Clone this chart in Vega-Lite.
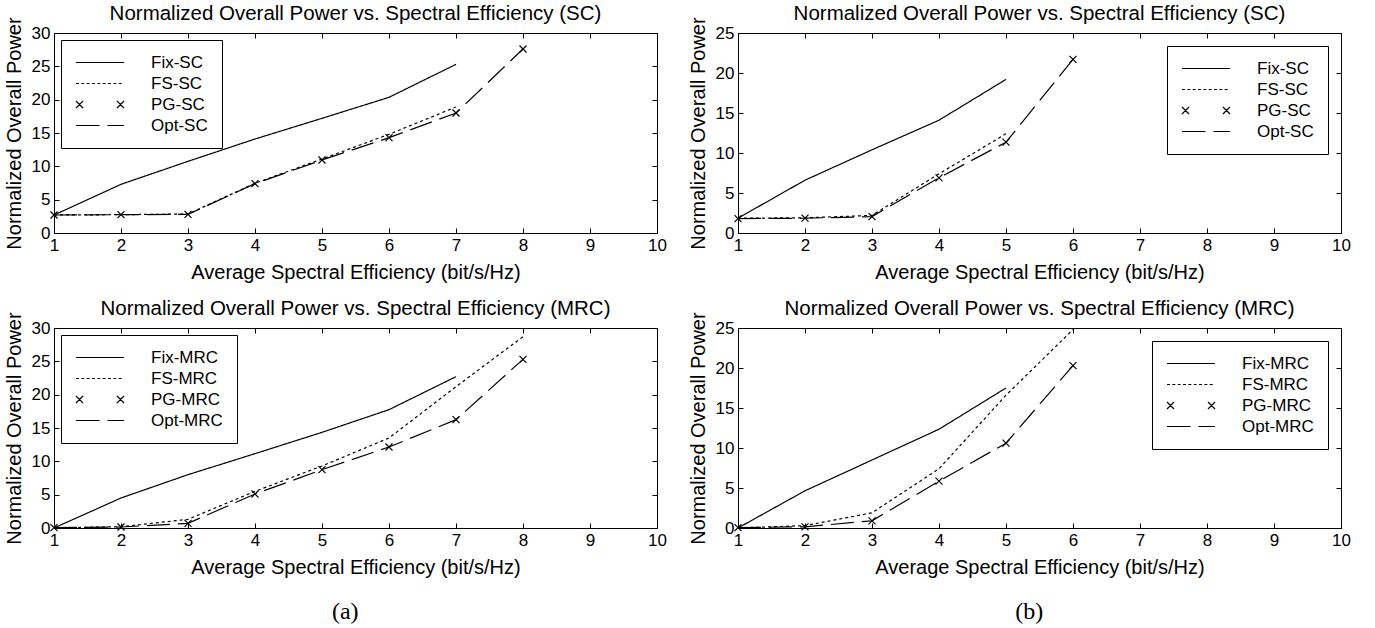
{
  "$schema": "https://vega.github.io/schema/vega-lite/v6.json",
  "padding": {"left": 3, "top": 3, "right": 0, "bottom": 0},
  "background": "white",
  "config": {
    "font": "Liberation Sans",
    "view": {"stroke": "black", "strokeWidth": 1},
    "axis": {"grid": false, "domainColor": "black", "domainWidth": 1, "tickColor": "black", "tickSize": -5, "labelPadding": 9, "labelColor": "black", "labelFontSize": 17, "labelFont": "Liberation Sans", "labelFlush": false, "labelOverlap": false, "titleFontSize": 20, "titleFontWeight": "normal", "titleColor": "black", "titleFont": "Liberation Sans", "minExtent": 0},
    "axisX": {"titlePadding": 9},
    "axisY": {"titlePadding": 7},
    "title": {"fontSize": 20.5, "fontWeight": "normal", "color": "black", "font": "Liberation Sans", "offset": -8},
    "legend": {"title": null, "symbolSize": 2304, "symbolStrokeWidth": 1.2, "symbolStrokeColor": "black", "symbolFillColor": "transparent", "labelFontSize": 17, "labelFont": "Liberation Sans", "labelColor": "black", "labelOffset": 26, "padding": 14, "strokeColor": "black", "fillColor": "white", "rowPadding": 3, "clipHeight": 17}
  },
  "data": {"values": [
    {"panel": "a1", "series": "Fix-SC", "x": 1, "y": 2.7},
    {"panel": "a1", "series": "Fix-SC", "x": 2, "y": 7.3},
    {"panel": "a1", "series": "Fix-SC", "x": 3, "y": 10.75},
    {"panel": "a1", "series": "Fix-SC", "x": 4, "y": 14.1},
    {"panel": "a1", "series": "Fix-SC", "x": 5, "y": 17.2},
    {"panel": "a1", "series": "Fix-SC", "x": 6, "y": 20.35},
    {"panel": "a1", "series": "Fix-SC", "x": 7, "y": 25.3},
    {"panel": "a1", "series": "FS-SC", "x": 1, "y": 2.7},
    {"panel": "a1", "series": "FS-SC", "x": 2, "y": 2.75},
    {"panel": "a1", "series": "FS-SC", "x": 3, "y": 2.85},
    {"panel": "a1", "series": "FS-SC", "x": 4, "y": 7.45},
    {"panel": "a1", "series": "FS-SC", "x": 5, "y": 11.1},
    {"panel": "a1", "series": "FS-SC", "x": 6, "y": 14.8},
    {"panel": "a1", "series": "FS-SC", "x": 7, "y": 18.9},
    {"panel": "a1", "series": "PG-SC", "x": 1, "y": 2.7},
    {"panel": "a1", "series": "PG-SC", "x": 2, "y": 2.75},
    {"panel": "a1", "series": "PG-SC", "x": 3, "y": 2.8},
    {"panel": "a1", "series": "PG-SC", "x": 4, "y": 7.4},
    {"panel": "a1", "series": "PG-SC", "x": 5, "y": 10.95},
    {"panel": "a1", "series": "PG-SC", "x": 6, "y": 14.3},
    {"panel": "a1", "series": "PG-SC", "x": 7, "y": 18.0},
    {"panel": "a1", "series": "PG-SC", "x": 8, "y": 27.6},
    {"panel": "a1", "series": "Opt-SC", "x": 1, "y": 2.7},
    {"panel": "a1", "series": "Opt-SC", "x": 2, "y": 2.75},
    {"panel": "a1", "series": "Opt-SC", "x": 3, "y": 2.8},
    {"panel": "a1", "series": "Opt-SC", "x": 4, "y": 7.4},
    {"panel": "a1", "series": "Opt-SC", "x": 5, "y": 10.95},
    {"panel": "a1", "series": "Opt-SC", "x": 6, "y": 14.3},
    {"panel": "a1", "series": "Opt-SC", "x": 7, "y": 18.0},
    {"panel": "a1", "series": "Opt-SC", "x": 8, "y": 27.6},
    {"panel": "b1", "series": "Fix-SC", "x": 1, "y": 1.85},
    {"panel": "b1", "series": "Fix-SC", "x": 2, "y": 6.6},
    {"panel": "b1", "series": "Fix-SC", "x": 3, "y": 10.4},
    {"panel": "b1", "series": "Fix-SC", "x": 4, "y": 14.1},
    {"panel": "b1", "series": "Fix-SC", "x": 5, "y": 19.2},
    {"panel": "b1", "series": "FS-SC", "x": 1, "y": 1.85},
    {"panel": "b1", "series": "FS-SC", "x": 2, "y": 1.9},
    {"panel": "b1", "series": "FS-SC", "x": 3, "y": 2.2},
    {"panel": "b1", "series": "FS-SC", "x": 4, "y": 7.4},
    {"panel": "b1", "series": "FS-SC", "x": 5, "y": 12.4},
    {"panel": "b1", "series": "PG-SC", "x": 1, "y": 1.8},
    {"panel": "b1", "series": "PG-SC", "x": 2, "y": 1.85},
    {"panel": "b1", "series": "PG-SC", "x": 3, "y": 2.05},
    {"panel": "b1", "series": "PG-SC", "x": 4, "y": 6.9},
    {"panel": "b1", "series": "PG-SC", "x": 5, "y": 11.35},
    {"panel": "b1", "series": "PG-SC", "x": 6, "y": 21.7},
    {"panel": "b1", "series": "Opt-SC", "x": 1, "y": 1.8},
    {"panel": "b1", "series": "Opt-SC", "x": 2, "y": 1.85},
    {"panel": "b1", "series": "Opt-SC", "x": 3, "y": 2.05},
    {"panel": "b1", "series": "Opt-SC", "x": 4, "y": 6.9},
    {"panel": "b1", "series": "Opt-SC", "x": 5, "y": 11.35},
    {"panel": "b1", "series": "Opt-SC", "x": 6, "y": 21.7},
    {"panel": "a2", "series": "Fix-MRC", "x": 1, "y": 0},
    {"panel": "a2", "series": "Fix-MRC", "x": 2, "y": 4.5},
    {"panel": "a2", "series": "Fix-MRC", "x": 3, "y": 8.0},
    {"panel": "a2", "series": "Fix-MRC", "x": 4, "y": 11.15},
    {"panel": "a2", "series": "Fix-MRC", "x": 5, "y": 14.35},
    {"panel": "a2", "series": "Fix-MRC", "x": 6, "y": 17.75},
    {"panel": "a2", "series": "Fix-MRC", "x": 7, "y": 22.7},
    {"panel": "a2", "series": "FS-MRC", "x": 1, "y": 0},
    {"panel": "a2", "series": "FS-MRC", "x": 2, "y": 0.2},
    {"panel": "a2", "series": "FS-MRC", "x": 3, "y": 1.3},
    {"panel": "a2", "series": "FS-MRC", "x": 4, "y": 5.5},
    {"panel": "a2", "series": "FS-MRC", "x": 5, "y": 9.3},
    {"panel": "a2", "series": "FS-MRC", "x": 6, "y": 13.5},
    {"panel": "a2", "series": "FS-MRC", "x": 7, "y": 21.2},
    {"panel": "a2", "series": "FS-MRC", "x": 8, "y": 28.7},
    {"panel": "a2", "series": "PG-MRC", "x": 1, "y": 0.05},
    {"panel": "a2", "series": "PG-MRC", "x": 2, "y": 0.15},
    {"panel": "a2", "series": "PG-MRC", "x": 3, "y": 0.7},
    {"panel": "a2", "series": "PG-MRC", "x": 4, "y": 5.1},
    {"panel": "a2", "series": "PG-MRC", "x": 5, "y": 8.75},
    {"panel": "a2", "series": "PG-MRC", "x": 6, "y": 12.15},
    {"panel": "a2", "series": "PG-MRC", "x": 7, "y": 16.25},
    {"panel": "a2", "series": "PG-MRC", "x": 8, "y": 25.3},
    {"panel": "a2", "series": "Opt-MRC", "x": 1, "y": 0.05},
    {"panel": "a2", "series": "Opt-MRC", "x": 2, "y": 0.15},
    {"panel": "a2", "series": "Opt-MRC", "x": 3, "y": 0.7},
    {"panel": "a2", "series": "Opt-MRC", "x": 4, "y": 5.1},
    {"panel": "a2", "series": "Opt-MRC", "x": 5, "y": 8.75},
    {"panel": "a2", "series": "Opt-MRC", "x": 6, "y": 12.15},
    {"panel": "a2", "series": "Opt-MRC", "x": 7, "y": 16.25},
    {"panel": "a2", "series": "Opt-MRC", "x": 8, "y": 25.3},
    {"panel": "b2", "series": "Fix-MRC", "x": 1, "y": 0},
    {"panel": "b2", "series": "Fix-MRC", "x": 2, "y": 4.65},
    {"panel": "b2", "series": "Fix-MRC", "x": 3, "y": 8.5},
    {"panel": "b2", "series": "Fix-MRC", "x": 4, "y": 12.35},
    {"panel": "b2", "series": "Fix-MRC", "x": 5, "y": 17.5},
    {"panel": "b2", "series": "FS-MRC", "x": 1, "y": 0},
    {"panel": "b2", "series": "FS-MRC", "x": 2, "y": 0.3},
    {"panel": "b2", "series": "FS-MRC", "x": 3, "y": 1.9},
    {"panel": "b2", "series": "FS-MRC", "x": 4, "y": 7.4},
    {"panel": "b2", "series": "FS-MRC", "x": 5, "y": 16.6},
    {"panel": "b2", "series": "FS-MRC", "x": 6, "y": 24.8},
    {"panel": "b2", "series": "PG-MRC", "x": 1, "y": 0.05},
    {"panel": "b2", "series": "PG-MRC", "x": 2, "y": 0.15},
    {"panel": "b2", "series": "PG-MRC", "x": 3, "y": 0.9},
    {"panel": "b2", "series": "PG-MRC", "x": 4, "y": 5.85},
    {"panel": "b2", "series": "PG-MRC", "x": 5, "y": 10.6},
    {"panel": "b2", "series": "PG-MRC", "x": 6, "y": 20.3},
    {"panel": "b2", "series": "Opt-MRC", "x": 1, "y": 0.05},
    {"panel": "b2", "series": "Opt-MRC", "x": 2, "y": 0.15},
    {"panel": "b2", "series": "Opt-MRC", "x": 3, "y": 0.9},
    {"panel": "b2", "series": "Opt-MRC", "x": 4, "y": 5.85},
    {"panel": "b2", "series": "Opt-MRC", "x": 5, "y": 10.6},
    {"panel": "b2", "series": "Opt-MRC", "x": 6, "y": 20.3}
  ]},
  "hconcat": [
    {
      "title": {"text": "(a)", "orient": "bottom", "font": "Liberation Serif", "fontSize": 24, "offset": 22, "frame": "bounds", "anchor": "middle", "dx": 10},
      "bounds": "flush",
      "spacing": 95,
      "resolve": {"scale": {"shape": "independent", "strokeDash": "independent"}, "legend": {"shape": "independent"}},
      "vconcat": [
        {
          "width": 603, "height": 200,
          "title": "Normalized Overall Power vs. Spectral Efficiency (SC)",
          "transform": [{"filter": "datum.panel === 'a1'"}],
          "layer": [
            {
              "transform": [{"filter": "indexof(datum.series, 'PG') !== 0"}],
              "mark": {"type": "line", "color": "black", "strokeWidth": 1.2},
              "encoding": {
                "x": {"field": "x", "type": "quantitative", "scale": {"domain": [1, 10], "nice": false}, "axis": {"orient": "bottom", "title": "Average Spectral Efficiency (bit/s/Hz)", "values": [1,2,3,4,5,6,7,8,9,10]}},
                "y": {"field": "y", "type": "quantitative", "scale": {"domain": [0, 30], "nice": false}, "axis": {"orient": "left", "title": "Normalized Overall Power", "values": [0,5,10,15,20,25,30]}},
                "strokeDash": {"field": "series", "type": "nominal", "scale": {"domain": ["Fix-SC", "FS-SC", "Opt-SC"], "range": [[1, 0], [3, 3], [23, 8]]}, "legend": null}
              }
            },
            {
              "transform": [{"filter": "indexof(datum.series, 'PG') === 0"}],
              "mark": {"type": "point", "shape": "M-1,-1L1,1M-1,1L1,-1", "size": 49, "filled": false, "color": "black", "strokeWidth": 1.2, "opacity": 1},
              "encoding": {
                "x": {"field": "x", "type": "quantitative", "axis": {"orient": "top", "labels": false, "title": null, "values": [1,2,3,4,5,6,7,8,9,10]}},
                "y": {"field": "y", "type": "quantitative", "axis": {"orient": "right", "labels": false, "title": null, "values": [0,5,10,15,20,25,30]}}
              }
            },
            {
              "mark": {"type": "point", "filled": false, "color": "black", "strokeWidth": 1.2},
              "encoding": {
                "x": {"field": "x", "type": "quantitative", "axis": null},
                "y": {"field": "y", "type": "quantitative", "axis": null},
                "opacity": {"condition": {"test": "false", "value": 1}, "value": 0},
                "shape": {"field": "series", "type": "nominal",
                  "scale": {"domain": ["Fix-SC", "FS-SC", "PG-SC", "Opt-SC"], "range": ["M-1,0L1,0", "M-1,0L-0.875,0M-0.778,0L-0.653,0M-0.556,0L-0.431,0M-0.333,0L-0.208,0M-0.111,0L0.014,0M0.111,0L0.236,0M0.333,0L0.458,0M0.556,0L0.681,0M0.778,0L0.903,0", "M-1,-0.146L-0.708,0.146M-1,0.146L-0.708,-0.146M0.708,-0.146L1,0.146M0.708,0.146L1,-0.146", "M-1,0L-0.02,0M0.31,0L1,0"]},
                  "legend": {"orient": "top-left", "offset": 7}}
              }
            }
          ],
          "resolve": {"axis": {"x": "independent", "y": "independent"}}
        },
        {
          "width": 603, "height": 200,
          "title": "Normalized Overall Power vs. Spectral Efficiency (MRC)",
          "transform": [{"filter": "datum.panel === 'a2'"}],
          "layer": [
            {
              "transform": [{"filter": "indexof(datum.series, 'PG') !== 0"}],
              "mark": {"type": "line", "color": "black", "strokeWidth": 1.2},
              "encoding": {
                "x": {"field": "x", "type": "quantitative", "scale": {"domain": [1, 10], "nice": false}, "axis": {"orient": "bottom", "title": "Average Spectral Efficiency (bit/s/Hz)", "values": [1,2,3,4,5,6,7,8,9,10]}},
                "y": {"field": "y", "type": "quantitative", "scale": {"domain": [0, 30], "nice": false}, "axis": {"orient": "left", "title": "Normalized Overall Power", "values": [0,5,10,15,20,25,30]}},
                "strokeDash": {"field": "series", "type": "nominal", "scale": {"domain": ["Fix-MRC", "FS-MRC", "Opt-MRC"], "range": [[1, 0], [3, 3], [23, 8]]}, "legend": null}
              }
            },
            {
              "transform": [{"filter": "indexof(datum.series, 'PG') === 0"}],
              "mark": {"type": "point", "shape": "M-1,-1L1,1M-1,1L1,-1", "size": 49, "filled": false, "color": "black", "strokeWidth": 1.2, "opacity": 1},
              "encoding": {
                "x": {"field": "x", "type": "quantitative", "axis": {"orient": "top", "labels": false, "title": null, "values": [1,2,3,4,5,6,7,8,9,10]}},
                "y": {"field": "y", "type": "quantitative", "axis": {"orient": "right", "labels": false, "title": null, "values": [0,5,10,15,20,25,30]}}
              }
            },
            {
              "mark": {"type": "point", "filled": false, "color": "black", "strokeWidth": 1.2},
              "encoding": {
                "x": {"field": "x", "type": "quantitative", "axis": null},
                "y": {"field": "y", "type": "quantitative", "axis": null},
                "opacity": {"condition": {"test": "false", "value": 1}, "value": 0},
                "shape": {"field": "series", "type": "nominal",
                  "scale": {"domain": ["Fix-MRC", "FS-MRC", "PG-MRC", "Opt-MRC"], "range": ["M-1,0L1,0", "M-1,0L-0.875,0M-0.778,0L-0.653,0M-0.556,0L-0.431,0M-0.333,0L-0.208,0M-0.111,0L0.014,0M0.111,0L0.236,0M0.333,0L0.458,0M0.556,0L0.681,0M0.778,0L0.903,0", "M-1,-0.146L-0.708,0.146M-1,0.146L-0.708,-0.146M0.708,-0.146L1,0.146M0.708,0.146L1,-0.146", "M-1,0L-0.02,0M0.31,0L1,0"]},
                  "legend": {"orient": "top-left", "offset": 7}}
              }
            }
          ],
          "resolve": {"axis": {"x": "independent", "y": "independent"}}
        }
      ]
    },
    {
      "title": {"text": "(b)", "orient": "bottom", "font": "Liberation Serif", "fontSize": 24, "offset": 22, "frame": "bounds", "anchor": "middle", "dx": 10},
      "bounds": "flush",
      "spacing": 95,
      "resolve": {"scale": {"shape": "independent", "strokeDash": "independent"}, "legend": {"shape": "independent"}},
      "vconcat": [
        {
          "width": 603, "height": 200,
          "title": "Normalized Overall Power vs. Spectral Efficiency (SC)",
          "transform": [{"filter": "datum.panel === 'b1'"}],
          "layer": [
            {
              "transform": [{"filter": "indexof(datum.series, 'PG') !== 0"}],
              "mark": {"type": "line", "color": "black", "strokeWidth": 1.2},
              "encoding": {
                "x": {"field": "x", "type": "quantitative", "scale": {"domain": [1, 10], "nice": false}, "axis": {"orient": "bottom", "title": "Average Spectral Efficiency (bit/s/Hz)", "values": [1,2,3,4,5,6,7,8,9,10]}},
                "y": {"field": "y", "type": "quantitative", "scale": {"domain": [0, 25], "nice": false}, "axis": {"orient": "left", "title": "Normalized Overall Power", "values": [0,5,10,15,20,25]}},
                "strokeDash": {"field": "series", "type": "nominal", "scale": {"domain": ["Fix-SC", "FS-SC", "Opt-SC"], "range": [[1, 0], [3, 3], [23, 8]]}, "legend": null}
              }
            },
            {
              "transform": [{"filter": "indexof(datum.series, 'PG') === 0"}],
              "mark": {"type": "point", "shape": "M-1,-1L1,1M-1,1L1,-1", "size": 49, "filled": false, "color": "black", "strokeWidth": 1.2, "opacity": 1},
              "encoding": {
                "x": {"field": "x", "type": "quantitative", "axis": {"orient": "top", "labels": false, "title": null, "values": [1,2,3,4,5,6,7,8,9,10]}},
                "y": {"field": "y", "type": "quantitative", "axis": {"orient": "right", "labels": false, "title": null, "values": [0,5,10,15,20,25]}}
              }
            },
            {
              "mark": {"type": "point", "filled": false, "color": "black", "strokeWidth": 1.2},
              "encoding": {
                "x": {"field": "x", "type": "quantitative", "axis": null},
                "y": {"field": "y", "type": "quantitative", "axis": null},
                "opacity": {"condition": {"test": "false", "value": 1}, "value": 0},
                "shape": {"field": "series", "type": "nominal",
                  "scale": {"domain": ["Fix-SC", "FS-SC", "PG-SC", "Opt-SC"], "range": ["M-1,0L1,0", "M-1,0L-0.875,0M-0.778,0L-0.653,0M-0.556,0L-0.431,0M-0.333,0L-0.208,0M-0.111,0L0.014,0M0.111,0L0.236,0M0.333,0L0.458,0M0.556,0L0.681,0M0.778,0L0.903,0", "M-1,-0.146L-0.708,0.146M-1,0.146L-0.708,-0.146M0.708,-0.146L1,0.146M0.708,0.146L1,-0.146", "M-1,0L-0.02,0M0.31,0L1,0"]},
                  "legend": {"orient": "top-right", "offset": 13}}
              }
            }
          ],
          "resolve": {"axis": {"x": "independent", "y": "independent"}}
        },
        {
          "width": 603, "height": 200,
          "title": "Normalized Overall Power vs. Spectral Efficiency (MRC)",
          "transform": [{"filter": "datum.panel === 'b2'"}],
          "layer": [
            {
              "transform": [{"filter": "indexof(datum.series, 'PG') !== 0"}],
              "mark": {"type": "line", "color": "black", "strokeWidth": 1.2},
              "encoding": {
                "x": {"field": "x", "type": "quantitative", "scale": {"domain": [1, 10], "nice": false}, "axis": {"orient": "bottom", "title": "Average Spectral Efficiency (bit/s/Hz)", "values": [1,2,3,4,5,6,7,8,9,10]}},
                "y": {"field": "y", "type": "quantitative", "scale": {"domain": [0, 25], "nice": false}, "axis": {"orient": "left", "title": "Normalized Overall Power", "values": [0,5,10,15,20,25]}},
                "strokeDash": {"field": "series", "type": "nominal", "scale": {"domain": ["Fix-MRC", "FS-MRC", "Opt-MRC"], "range": [[1, 0], [3, 3], [23, 8]]}, "legend": null}
              }
            },
            {
              "transform": [{"filter": "indexof(datum.series, 'PG') === 0"}],
              "mark": {"type": "point", "shape": "M-1,-1L1,1M-1,1L1,-1", "size": 49, "filled": false, "color": "black", "strokeWidth": 1.2, "opacity": 1},
              "encoding": {
                "x": {"field": "x", "type": "quantitative", "axis": {"orient": "top", "labels": false, "title": null, "values": [1,2,3,4,5,6,7,8,9,10]}},
                "y": {"field": "y", "type": "quantitative", "axis": {"orient": "right", "labels": false, "title": null, "values": [0,5,10,15,20,25]}}
              }
            },
            {
              "mark": {"type": "point", "filled": false, "color": "black", "strokeWidth": 1.2},
              "encoding": {
                "x": {"field": "x", "type": "quantitative", "axis": null},
                "y": {"field": "y", "type": "quantitative", "axis": null},
                "opacity": {"condition": {"test": "false", "value": 1}, "value": 0},
                "shape": {"field": "series", "type": "nominal",
                  "scale": {"domain": ["Fix-MRC", "FS-MRC", "PG-MRC", "Opt-MRC"], "range": ["M-1,0L1,0", "M-1,0L-0.875,0M-0.778,0L-0.653,0M-0.556,0L-0.431,0M-0.333,0L-0.208,0M-0.111,0L0.014,0M0.111,0L0.236,0M0.333,0L0.458,0M0.556,0L0.681,0M0.778,0L0.903,0", "M-1,-0.146L-0.708,0.146M-1,0.146L-0.708,-0.146M0.708,-0.146L1,0.146M0.708,0.146L1,-0.146", "M-1,0L-0.02,0M0.31,0L1,0"]},
                  "legend": {"orient": "top-right", "offset": 13}}
              }
            }
          ],
          "resolve": {"axis": {"x": "independent", "y": "independent"}}
        }
      ]
    }
  ],
  "spacing": 20,
  "resolve": {"scale": {"shape": "independent", "strokeDash": "independent"}, "legend": {"shape": "independent"}}
}
